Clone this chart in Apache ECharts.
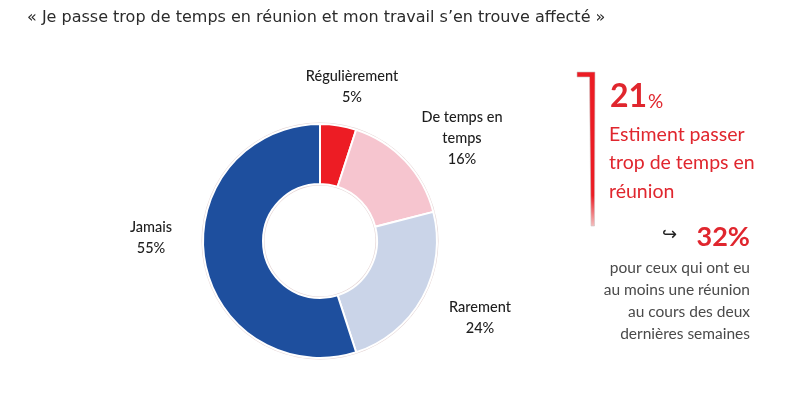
<!DOCTYPE html>
<html><head><meta charset="utf-8">
<script src="https://cdn.jsdelivr.net/npm/echarts@6/dist/echarts.min.js"></script>
<style>html,body{margin:0;padding:0;background:#fff}#c{width:795px;height:395px}</style>
</head><body><div id="c"></div>
<script>
const categories = ['Régulièrement', 'De temps en temps', 'Rarement', 'Jamais'];
const labelTexts = ['Régulièrement', 'De temps en\ntemps', 'Rarement', 'Jamais'];
const values = [5, 16, 24, 55];
const colors = ['#ED1C24', '#F6C5CF', '#CAD4E8', '#1E4F9E'];
const title = '« Je passe trop de temps en réunion et mon travail s’en trouve affecté »';
const headlineValue = '21';
const headlineText = ['Estiment passer', 'trop de temps en', 'réunion'];
const subValue = '32%';
const subText = ['pour ceux qui ont eu', 'au moins une réunion', 'au cours des deux', 'dernières semaines'];

const labelPos = [[352, 87], [462, 138], [480, 318], [151, 238]];
const FONT = 'Lato, "DejaVu Sans", sans-serif';

const chart = echarts.init(document.getElementById('c'), null, {renderer: 'canvas'});
const redText = '#E0262E';
const graphic = [
  {type: 'text', left: 27, top: 10, style: {text: title, font: '16px "DejaVu Sans"', fill: '#2b2b2b'}},
  {type: 'polygon', shape: {points: [[577,72],[595,72],[594.5,226],[591,226],[589.5,77],[577,77]]},
    style: {fill: new echarts.graphic.LinearGradient(0,0,0,1,[{offset:0,color:'#EC1C24'},{offset:0.8,color:'#EC1C24'},{offset:1,color:'#f4c0c0'}]), stroke: '#cfc4c4', lineWidth: 0.6}},
  {type: 'text', x: 610, y: 113, style: {text: headlineValue, font: 'bold 32px ' + FONT, fill: redText, textVerticalAlign: 'bottom'}},
  {type: 'text', x: 648, y: 111, style: {text: '%', font: '19px ' + FONT, fill: redText, textVerticalAlign: 'bottom'}},
  {type: 'text', x: 609, y: 120, style: {text: headlineText.join('\n'), font: '19.5px ' + FONT, lineHeight: 28.5, fill: redText}},
  {type: 'text', x: 662, y: 235, style: {text: '↪', font: '18px "DejaVu Sans"', fill: '#222', textVerticalAlign: 'middle'}},
  {type: 'text', x: 750, y: 237, style: {text: subValue, font: 'bold 27px ' + FONT, fill: redText, textAlign: 'right', textVerticalAlign: 'middle'}},
  {type: 'text', x: 750, y: 257, style: {text: subText.join('\n'), font: '15.5px ' + FONT, lineHeight: 22, fill: '#4a4a4a', textAlign: 'right'}}
];

chart.setOption({
  animation: false,
  graphic: graphic,
  series: [
    {type: 'pie', silent: true, center: [320, 241], radius: [55.5, 118.5], z: 1,
      label: {show: false}, labelLine: {show: false},
      itemStyle: {color: '#e3d3d3'}, data: [{value: 1}]},
    {type: 'pie', center: [320, 241], radius: [57, 117], startAngle: 90, clockwise: true, z: 2,
      itemStyle: {borderColor: '#fff', borderWidth: 2},
      labelLine: {show: false},
      label: {show: true, position: 'outside', formatter: p => labelTexts[p.dataIndex] + '\n' + p.value + '%',
        fontFamily: FONT, fontSize: 14.5, fontWeight: 500, color: '#1e1e1e', lineHeight: 21, align: 'center'},
      labelLayout: p => ({x: labelPos[p.dataIndex][0], y: labelPos[p.dataIndex][1], align: 'center', verticalAlign: 'middle'}),
      data: categories.map((c, i) => ({name: c, value: values[i], itemStyle: {color: colors[i]}}))
    }
  ]
});
</script></body></html>
